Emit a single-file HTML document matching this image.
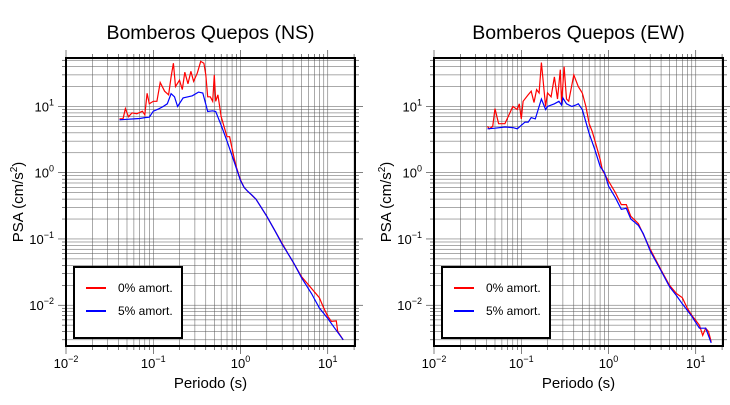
<!DOCTYPE html>
<html><head><meta charset="utf-8"><style>
body{margin:0;background:#fff;}
svg text{font-family:"Liberation Sans",sans-serif;}
</style></head><body>
<svg id="svg" width="730" height="400" xmlns="http://www.w3.org/2000/svg"></svg>
<script>
// NS data
const nsPeriod0 = [0.041,0.045,0.048,0.052,0.057,0.065,0.075,0.08,0.085,0.09,0.1,0.11,0.12,0.135,0.15,0.16,0.17,0.18,0.2,0.215,0.23,0.25,0.27,0.29,0.32,0.35,0.38,0.4,0.42,0.45,0.48,0.5,0.52,0.55,0.6,0.7,0.75,0.85,0.9,1.0,1.1,1.2,1.5,2,3,5,8,9,10,11,12.5,13,15];
const nsPsa0 = [6.5,6.5,9.3,7,8,7.8,8.5,7.5,15.8,11,12,12,23,17,15,28,45,20,25,18,33,22,34,24,32,48,45,30,14,14,12,30,12,15,7,3.5,3.5,1.6,1.2,0.78,0.6,0.53,0.4,0.22,0.085,0.027,0.013,0.009,0.0068,0.0057,0.0058,0.004,0.003];
const nsPeriod5 = [0.041,0.05,0.06,0.07,0.08,0.09,0.1,0.115,0.13,0.145,0.16,0.175,0.19,0.22,0.25,0.28,0.33,0.37,0.42,0.48,0.52,0.6,0.7,0.85,1.0,1.1,1.2,1.35,1.5,1.7,2,2.5,3,4,5,6.5,8,10,12,15];
const nsPsa5 = [6.3,6.4,6.5,6.6,6.8,6.9,8.5,9.2,10,11,15.6,14,10,13.5,14,14.5,16.5,16,8.4,8.6,8.4,5.2,3.0,1.43,0.76,0.6,0.53,0.46,0.4,0.31,0.22,0.13,0.083,0.045,0.026,0.015,0.0091,0.0063,0.0045,0.003];
// EW data
const ewPeriod0 = [0.041,0.043,0.047,0.05,0.055,0.065,0.08,0.09,0.095,0.1,0.105,0.12,0.13,0.14,0.15,0.16,0.17,0.19,0.2,0.22,0.24,0.26,0.28,0.29,0.31,0.33,0.35,0.4,0.45,0.5,0.55,0.6,0.65,0.7,0.8,0.85,1.0,1.2,1.4,1.6,1.8,2.2,3,4,5,6,7,8,9,11,12,13,14,15];
const ewPsa0 = [5,4.6,5,9.3,5.5,5.5,10,9,11,6.5,12,15,17,11.5,18,16,46,10,16,14,28,13,36,11,40,13,12,30,20,16,10,5.5,4.2,3,1.6,1.1,0.75,0.5,0.33,0.33,0.22,0.17,0.07,0.034,0.02,0.015,0.013,0.009,0.007,0.005,0.0035,0.0045,0.004,0.0028];
const ewPeriod5 = [0.041,0.05,0.065,0.08,0.09,0.1,0.11,0.12,0.13,0.145,0.17,0.19,0.2,0.24,0.27,0.29,0.3,0.33,0.38,0.42,0.45,0.5,0.6,0.7,0.8,0.9,1.0,1.2,1.4,1.6,1.8,2.2,2.5,3,4,5,6,7,9,11,13,15];
const ewPsa5 = [4.6,4.7,4.9,4.8,4.6,5.2,5.8,5.8,6.8,6.5,13,9,10,11,12,10.5,13.5,11,10,10.5,11,9,3.9,2.2,1.25,1.0,0.63,0.42,0.28,0.29,0.2,0.16,0.12,0.066,0.033,0.019,0.014,0.0105,0.0068,0.0045,0.0045,0.0027];
const xTickExps = [-2,-1,0,1];
const yTickExps = [-2,-1,0,1];
const legendLabels = ["0% amort.","5% amort."];

const NS = "http://www.w3.org/2000/svg";
const svg = document.getElementById('svg');
function mk(tag, attrs, parent){const e=document.createElementNS(NS,tag);for(const k in attrs)e.setAttribute(k,attrs[k]);(parent||svg).appendChild(e);return e;}

function drawChart(x0, title, key, p0, v0, p5, v5){
  const x1 = x0+289, yTop=58, yBot=346;
  const g = mk('g',{});
  
  
  const xmin=-2, xmax=Math.log10(20.5), ymin=Math.log10(0.00242), ymax=Math.log10(54);
  const xs = v=> x0 + (Math.log10(v)-xmin)/(xmax-xmin)*(x1-x0);
  const ys = v=> yBot - (Math.log10(v)-ymin)/(ymax-ymin)*(yBot-yTop);
  const grid = mk('g',{stroke:'#555','stroke-width':0.5},g);
  
  
  for(let e=-2;e<=1;e++)for(let m=1;m<=9;m++){
    const v=m*Math.pow(10,e); if(v>20.5)continue;
    const X=xs(v);
    mk('line',{x1:X,x2:X,y1:yTop,y2:yBot},grid);
    mk('line',{x1:X,x2:X,y1:yBot,y2:yBot+(m==1?8:4),stroke:'#000'},grid);
    mk('line',{x1:X,x2:X,y1:yTop,y2:yTop-(m==1?8:4),stroke:'#000'},grid);
  }
  for(let e=-3;e<=1;e++)for(let m=1;m<=9;m++){
    const v=m*Math.pow(10,e); const Y=ys(v); if(Y<yTop||Y>yBot)continue;
    mk('line',{x1:x0,x2:x1,y1:Y,y2:Y},grid);
    mk('line',{x1:x0-(m==1?8:4),x2:x0,y1:Y,y2:Y,stroke:'#000'},grid);
    mk('line',{x1:x1,x2:x1+(m==1?8:4),y1:Y,y2:Y,stroke:'#000'},grid);
  }
  const pts=(p,v)=>p.map((t,i)=>xs(t).toFixed(1)+','+ys(v[i]).toFixed(1)).join(' ');
  const l0=mk('polyline',{points:pts(p0,v0),fill:'none',stroke:'#f00','stroke-width':1.2},g);
  
  
  const l5=mk('polyline',{points:pts(p5,v5),fill:'none',stroke:'#00f','stroke-width':1.2},g);
  
  
  const fr=mk('rect',{x:x0,y:yTop,width:x1-x0,height:yBot-yTop,fill:'none',stroke:'#000','stroke-width':2},g);
  
  
  xTickExps.forEach(e=>{
    const t=mk('text',{x:xs(Math.pow(10,e)),y:368,'text-anchor':'middle','font-size':13},g);
    
    
    t.innerHTML='10<tspan dy="-6" font-size="9">'+(e<0?'\u2212'+(-e):e)+'</tspan>';
  });
  yTickExps.forEach(e=>{
    const t=mk('text',{x:x0-12,y:ys(Math.pow(10,e))+5,'text-anchor':'end','font-size':13},g);
    
    
    t.innerHTML='10<tspan dy="-6" font-size="9">'+(e<0?'\u2212'+(-e):e)+'</tspan>';
  });
  const tt=mk('text',{x:(x0+x1)/2,y:39,'text-anchor':'middle','font-size':19.5},g);
  
  
  tt.textContent=title;
  const xl=mk('text',{x:(x0+x1)/2,y:388,'text-anchor':'middle','font-size':15},g);
  
  
  xl.textContent='Periodo (s)';
  const yl=mk('text',{x:0,y:0,'text-anchor':'middle','font-size':15,transform:'translate('+(x0-43)+','+((yTop+yBot)/2)+') rotate(-90)'},g);
  
  
  yl.innerHTML='PSA (cm/s<tspan dy="-6" font-size="10">2</tspan><tspan dy="6">)</tspan>';
  const lg=mk('g',{},g);
  
  
  mk('rect',{x:x0+8,y:267,width:108,height:71,fill:'#fff',stroke:'#000','stroke-width':2},lg);
  const cols=['#f00','#00f'];
  legendLabels.forEach((lab,i)=>{
    const y=288+i*23;
    const ln=mk('line',{x1:x0+20,x2:x0+40,y1:y,y2:y,stroke:cols[i],'stroke-width':2},lg);
    
    
    const t=mk('text',{x:x0+52,y:y+4,'font-size':12},lg);
    
    
    t.textContent=lab;
  });
}
drawChart(66,'Bomberos Quepos (NS)','ns',nsPeriod0,nsPsa0,nsPeriod5,nsPsa5);
drawChart(434,'Bomberos Quepos (EW)','ew',ewPeriod0,ewPsa0,ewPeriod5,ewPsa5);
</script>
</body></html>
